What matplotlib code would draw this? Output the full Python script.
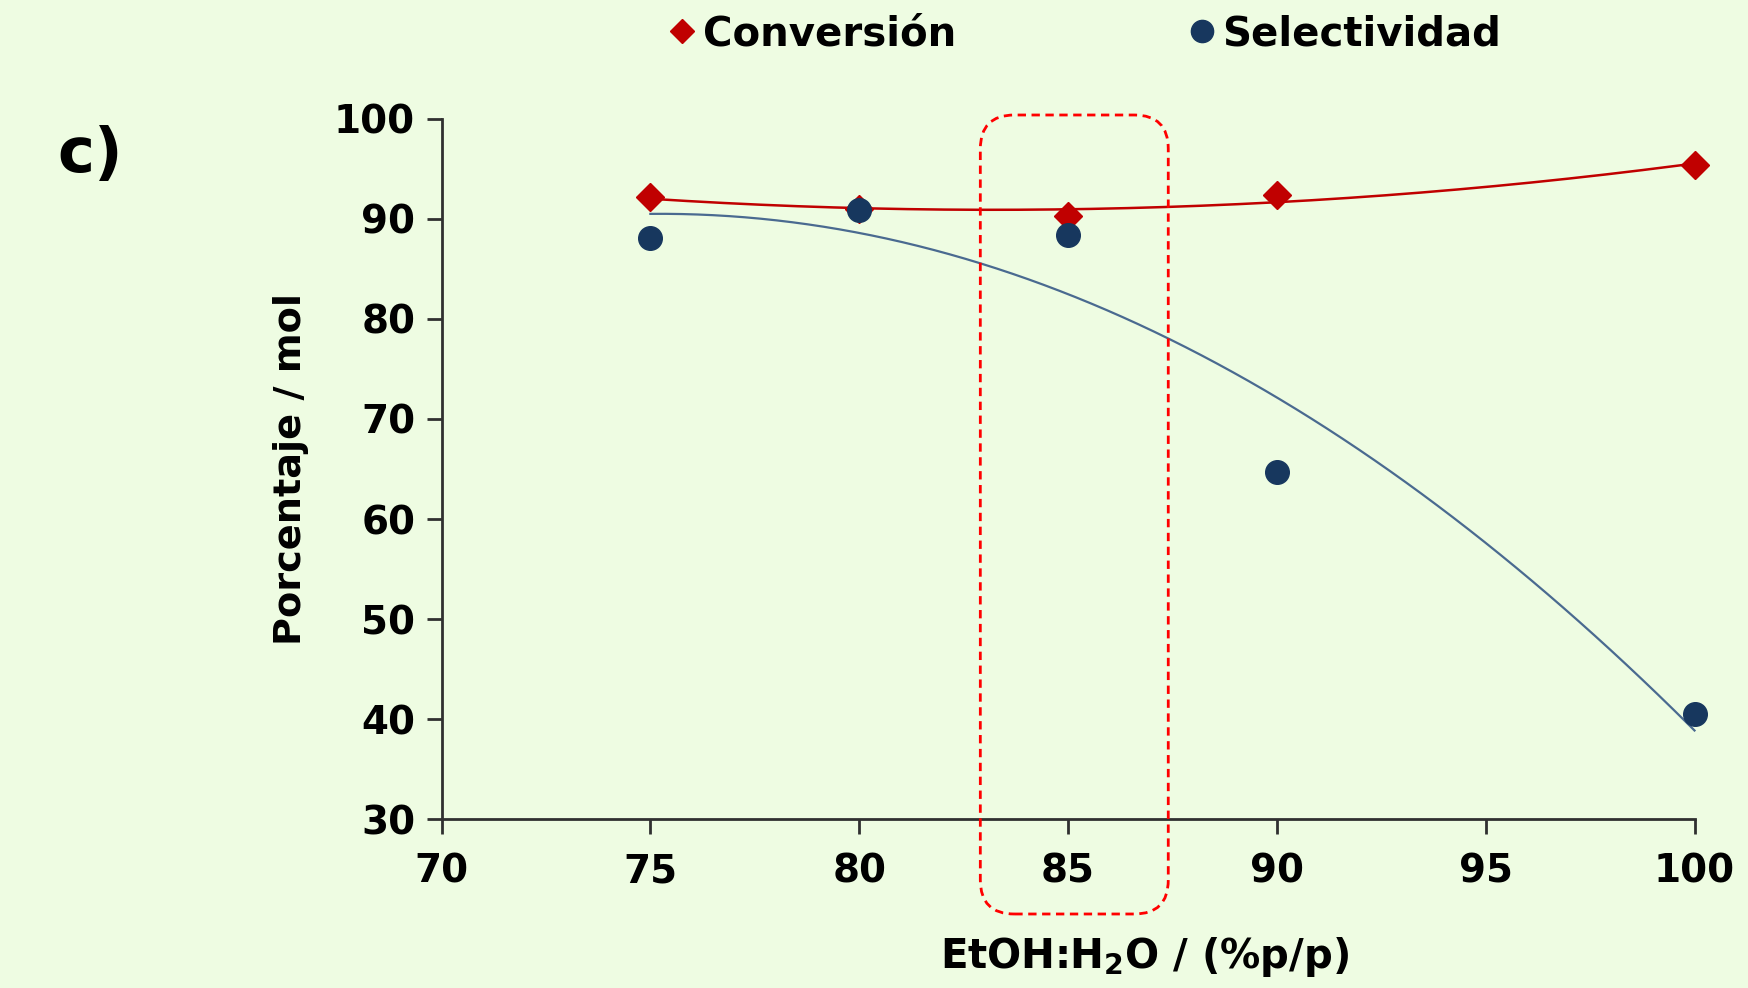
import numpy as np
import matplotlib
matplotlib.use("Agg")
import matplotlib.pyplot as plt
from matplotlib.lines import Line2D
from matplotlib.patches import FancyBboxPatch
from matplotlib.transforms import IdentityTransform

# data
etoh = [75, 80, 85, 90, 100]
conversion = [92.2, 91.0, 90.3, 92.4, 95.4]
selectividad = [88.1, 90.9, 88.4, 64.7, 40.5]

x_ticks = [70, 75, 80, 85, 90, 95, 100]
y_ticks = [30, 40, 50, 60, 70, 80, 90, 100]

bg = "#EEFCE2"
red = "#C00000"
navy = "#17375E"
trend_blue = "#4A6A90"

plt.rcParams["font.family"] = ["DejaVu Sans"]
plt.rcParams["mathtext.default"] = "bf"

fig = plt.figure(figsize=(17.48, 9.88), dpi=100, facecolor=bg)
ax = fig.add_axes([0.2526, 0.171, 0.7168, 0.7086], facecolor=bg)

# excel-style polynomial trendlines (order 2)
xs = np.linspace(75, 100, 200)
pc = np.polyfit(etoh, conversion, 2)
ps = np.polyfit(etoh, selectividad, 2)
ax.plot(xs, np.polyval(pc, xs), color=red, lw=1.8, zorder=2, clip_on=False)
ax.plot(xs, np.polyval(ps, xs), color=trend_blue, lw=1.6, zorder=2, clip_on=False)

ax.plot(etoh, conversion, ls="none", marker="D", ms=14, color=red, zorder=3,
        clip_on=False)
ax.plot(etoh, selectividad, ls="none", marker="o", ms=17, color=navy, zorder=4,
        clip_on=False)

ax.set_xlim(70, 100)
ax.set_ylim(30, 100)
ax.set_xticks(x_ticks)
ax.set_yticks(y_ticks)
for s in ["top", "right"]:
    ax.spines[s].set_visible(False)
for s in ["left", "bottom"]:
    ax.spines[s].set_linewidth(2)
    ax.spines[s].set_color("#303030")
ax.tick_params(direction="out", length=11, width=2, color="#303030",
               labelsize=28, pad=13)
ax.tick_params(axis="y", pad=8)
for lab in ax.get_xticklabels() + ax.get_yticklabels():
    lab.set_fontweight("bold")

ax.set_xlabel("EtOH:H$_2$O / (%p/p)", fontsize=29, fontweight="bold")
ax.xaxis.set_label_coords(0.561, -0.165)
ax.set_ylabel("Porcentaje / mol", fontsize=27.5, fontweight="bold", labelpad=18)

fig.text(0.033, 0.843, "c)", fontsize=45, fontweight="bold", va="center")

handles = [
    Line2D([], [], ls="none", marker="D", ms=12, color=red),
    Line2D([], [], ls="none", marker="o", ms=16, color=navy),
]
fig.legend(handles, ["Conversión", "Selectividad"], loc="center left",
           bbox_to_anchor=(0.372, 0.965), ncol=2, frameon=False,
           prop={"weight": "bold", "size": 29},
           handlelength=0.6, handletextpad=0.2, columnspacing=5.8,
           borderpad=0)

# highlighted region around 85 %
x0 = ax.transData.transform((82.9, 0))[0]
x1 = ax.transData.transform((87.4, 0))[0]
y_top = 988 - 115
y_bot = 988 - 914
box = FancyBboxPatch((x0, y_bot), x1 - x0, y_top - y_bot,
                     boxstyle="round,pad=0,rounding_size=34",
                     transform=IdentityTransform(), fill=False,
                     edgecolor="#FF0000", lw=2, ls=(0, (3, 2)), zorder=5)
fig.patches.append(box)

fig.savefig("out.png", dpi=100, facecolor=bg)
